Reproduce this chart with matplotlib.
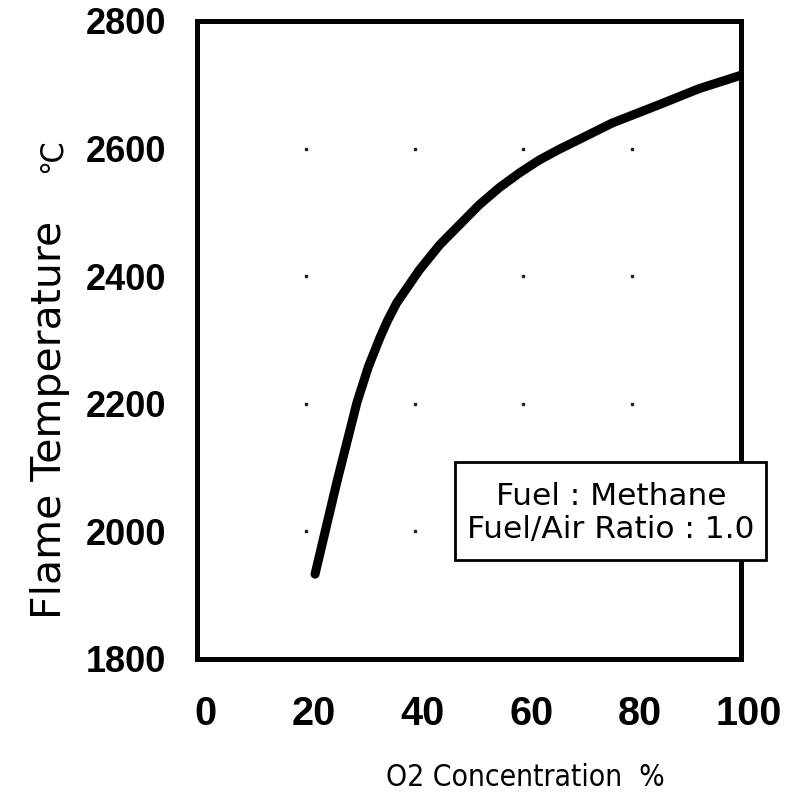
import numpy as np
import matplotlib
matplotlib.use('Agg')
import matplotlib.pyplot as plt
import matplotlib.transforms as mtransforms
from matplotlib.patches import Rectangle

# Flame temperature of methane vs O2 concentration
o2_pct = [21.7, 25.7, 29.4, 31.5, 33.6, 35.0, 36.7, 40.9, 44.6, 48.3, 51.9,
          55.6, 59.3, 62.9, 66.6, 69.7, 76.3, 85.0, 92.3, 100.0]
flame_temp = [1933, 2077, 2202, 2258, 2303, 2330, 2358, 2410, 2449, 2481, 2512,
              2539, 2562, 2582, 2599, 2612, 2640, 2669, 2694, 2715]

x_ticks = [0, 20, 40, 60, 80, 100]
y_ticks = [1800, 2000, 2200, 2400, 2600, 2800]
grid_x = [20, 40, 60, 80]
grid_y = [2000, 2200, 2400, 2600]

W, H = 798, 802
plt.rcParams['font.family'] = ['Liberation Sans', 'DejaVu Sans']

fig = plt.figure(figsize=(W / 100, H / 100), dpi=100)
# axes box in pixels: x 197..741, y 21..659
ax = fig.add_axes([197 / W, 1 - 659 / H, (741 - 197) / W, (659 - 21) / H])

ax.plot(o2_pct, flame_temp, color='black', lw=6.5, solid_capstyle='round',
        solid_joinstyle='round', zorder=3)

# the grid only survives as tiny dots at the intersections
gx, gy = np.meshgrid(grid_x, grid_y)
ax.plot(gx.ravel(), gy.ravel(), ls='none', marker='s', ms=1.5,
        color='#222222', zorder=1)

ax.set_xlim(0, 100)
ax.set_ylim(1800, 2800)
ax.set_xticks(x_ticks)
ax.set_yticks(y_ticks)
ax.tick_params(length=0)
ax.tick_params(axis='y', pad=22)
ax.tick_params(axis='x', pad=26)
for s in ax.spines.values():
    s.set_linewidth(3.6)

for lab in ax.get_yticklabels():
    lab.set_fontsize(26)
    lab.set_fontweight('bold')
off = mtransforms.ScaledTranslation(8 / 100, 0, fig.dpi_scale_trans)
for lab in ax.get_xticklabels():
    lab.set_fontsize(28.5)
    lab.set_fontweight('bold')
    lab.set_transform(lab.get_transform() + off)

fig.text(525 / W, 1 - 777 / H, 'O2 Concentration  %', ha='center', va='center',
         fontsize=21.5, family='DejaVu Sans', stretch='condensed')
# y label: text and the unit sit apart in the scan
fig.text(50 / W, 1 - 420 / H, 'Flame Temperature', ha='center',
         va='center', rotation=90, fontsize=29.5, family='DejaVu Sans')
fig.text(52 / W, 1 - 156 / H, '\u2103', ha='center', va='center',
         rotation=90, fontsize=22, family='DejaVu Sans')

# note box, sticks out past the right spine like in the scan
fig.add_artist(Rectangle((455 / W, 1 - 560 / H), 311 / W, 98 / H,
                         transform=fig.transFigure, fc='white', ec='black',
                         lw=2, zorder=5))
fig.text(611 / W, 1 - 513 / H, 'Fuel : Methane\nFuel/Air Ratio : 1.0',
         ha='center', va='center', fontsize=22.5, family='DejaVu Sans',
         linespacing=1.2, zorder=6)

fig.savefig('out.png', dpi=100)
